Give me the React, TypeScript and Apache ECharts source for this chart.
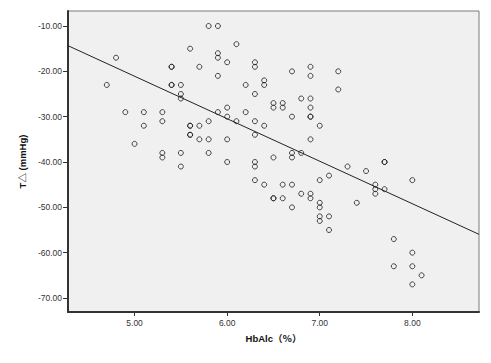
import React, { useEffect, useRef } from "react";
import * as echarts from "echarts";

// HbAlc (%) values of each point
const hba1c = [
  4.7, 4.8, 4.9, 5.0, 5.1, 5.1, 5.3, 5.3, 5.3, 5.3,
  5.4, 5.4, 5.4, 5.4, 5.5, 5.5, 5.5, 5.5, 5.5,
  5.6, 5.6, 5.6, 5.6, 5.6, 5.7, 5.7, 5.7,
  5.8, 5.8, 5.8, 5.8, 5.9, 5.9, 5.9, 5.9, 5.9,
  6.0, 6.0, 6.0, 6.0, 6.0, 6.1, 6.1, 6.2, 6.2,
  6.3, 6.3, 6.3, 6.3, 6.3, 6.3, 6.3, 6.3,
  6.4, 6.4, 6.4, 6.4, 6.5, 6.5, 6.5, 6.5, 6.5,
  6.6, 6.6, 6.6, 6.6, 6.7, 6.7, 6.7, 6.7, 6.7, 6.7,
  6.8, 6.8, 6.8, 6.9, 6.9, 6.9, 6.9, 6.9, 6.9, 6.9, 6.9, 6.9,
  7.0, 7.0, 7.0, 7.0, 7.0, 7.0, 7.1, 7.1, 7.1, 7.2, 7.2,
  7.3, 7.4, 7.5, 7.6, 7.6, 7.6, 7.7, 7.7, 7.7,
  7.8, 7.8, 8.0, 8.0, 8.0, 8.0, 8.1,
];
// T△ (mmHg) values of each point
const tDelta = [
  -23, -17, -29, -36, -29, -32, -29, -31, -38, -39,
  -19, -19, -23, -23, -23, -25, -26, -38, -41,
  -15, -32, -32, -34, -34, -19, -32, -35,
  -10, -31, -35, -38, -10, -16, -17, -21, -29,
  -18, -28, -30, -35, -40, -14, -31, -23, -29,
  -18, -19, -25, -31, -34, -40, -41, -44,
  -22, -23, -32, -45, -27, -28, -39, -48, -48,
  -27, -28, -45, -48, -20, -30, -38, -39, -45, -50,
  -26, -38, -47, -19, -21, -26, -28, -30, -30, -35, -47, -48,
  -32, -44, -49, -50, -52, -53, -43, -52, -55, -20, -24,
  -41, -49, -42, -45, -46, -47, -40, -40, -46,
  -57, -63, -44, -60, -63, -67, -65,
];

// Linear fit: T△ = fitIntercept + fitSlope * HbAlc
const fitIntercept = 25.8;
const fitSlope = -9.376;

const xTicks = [5, 6, 7, 8];
const yTicks = [-10, -20, -30, -40, -50, -60, -70];
const xMin = 4.281;
const xMax = 8.72;
const yMin = -73.09;
const yMax = -6.69;

export default function App() {
  const ref = useRef<HTMLDivElement>(null);

  useEffect(() => {
    if (!ref.current) return;
    const chart = echarts.init(ref.current, undefined, { renderer: "svg" });
    const points = hba1c.map((x, i) => [x, tDelta[i]]);
    const fit = [
      [xMin, fitIntercept + fitSlope * xMin],
      [xMax, fitIntercept + fitSlope * xMax],
    ];
    const labelFont = {
      fontFamily: "'Liberation Sans', Arial, sans-serif",
      fontSize: 8.5,
      color: "#333",
    };
    chart.setOption({
      animation: false,
      backgroundColor: "#ffffff",
      grid: {
        left: 68,
        right: 12,
        top: 11,
        bottom: 51,
        show: true,
        backgroundColor: "#F0F0F0",
        borderColor: "#7a7a7a",
        borderWidth: 1,
      },
      xAxis: {
        type: "value",
        min: xMin,
        max: xMax,
        name: "HbAlc（％）",
        nameLocation: "middle",
        nameGap: 22,
        nameTextStyle: {
          fontFamily: "'Liberation Sans', 'Noto Sans CJK SC', sans-serif",
          fontSize: 9.5,
          fontWeight: "bold",
          color: "#111",
        },
        axisLine: { show: true, onZero: false, lineStyle: { color: "#333", width: 2 } },
        axisTick: {
          show: true,
          length: 4,
          customValues: xTicks,
          lineStyle: { color: "#333", width: 1 },
        },
        axisLabel: {
          ...labelFont,
          margin: 6,
          customValues: xTicks,
          formatter: (v: number) => v.toFixed(2),
        },
        splitLine: { show: false },
      },
      yAxis: {
        type: "value",
        min: yMin,
        max: yMax,
        name: "T△ (mmHg)",
        nameLocation: "middle",
        nameGap: 33,
        nameTextStyle: {
          fontFamily: "'Liberation Sans', 'Noto Sans CJK SC', sans-serif",
          fontSize: 9.5,
          fontWeight: "bold",
          color: "#111",
        },
        axisLine: { show: true, onZero: false, lineStyle: { color: "#333", width: 2 } },
        axisTick: {
          show: true,
          length: 5,
          customValues: yTicks,
          lineStyle: { color: "#333", width: 1 },
        },
        axisLabel: {
          ...labelFont,
          margin: 6,
          customValues: yTicks,
          formatter: (v: number) => v.toFixed(2),
        },
        splitLine: { show: false },
      },
      series: [
        {
          type: "scatter",
          data: points,
          symbol: "circle",
          symbolSize: 5,
          itemStyle: {
            color: "rgba(0,0,0,0)",
            borderColor: "#1a1a1a",
            borderWidth: 1,
          },
          silent: true,
        },
        {
          type: "line",
          data: fit,
          showSymbol: false,
          symbol: "none",
          lineStyle: { color: "#222", width: 1 },
          silent: true,
        },
      ],
    });
    return () => chart.dispose();
  }, []);

  return (
    <div
      ref={ref}
      style={{ position: "fixed", left: 0, top: 0, width: 491, height: 363 }}
    />
  );
}
